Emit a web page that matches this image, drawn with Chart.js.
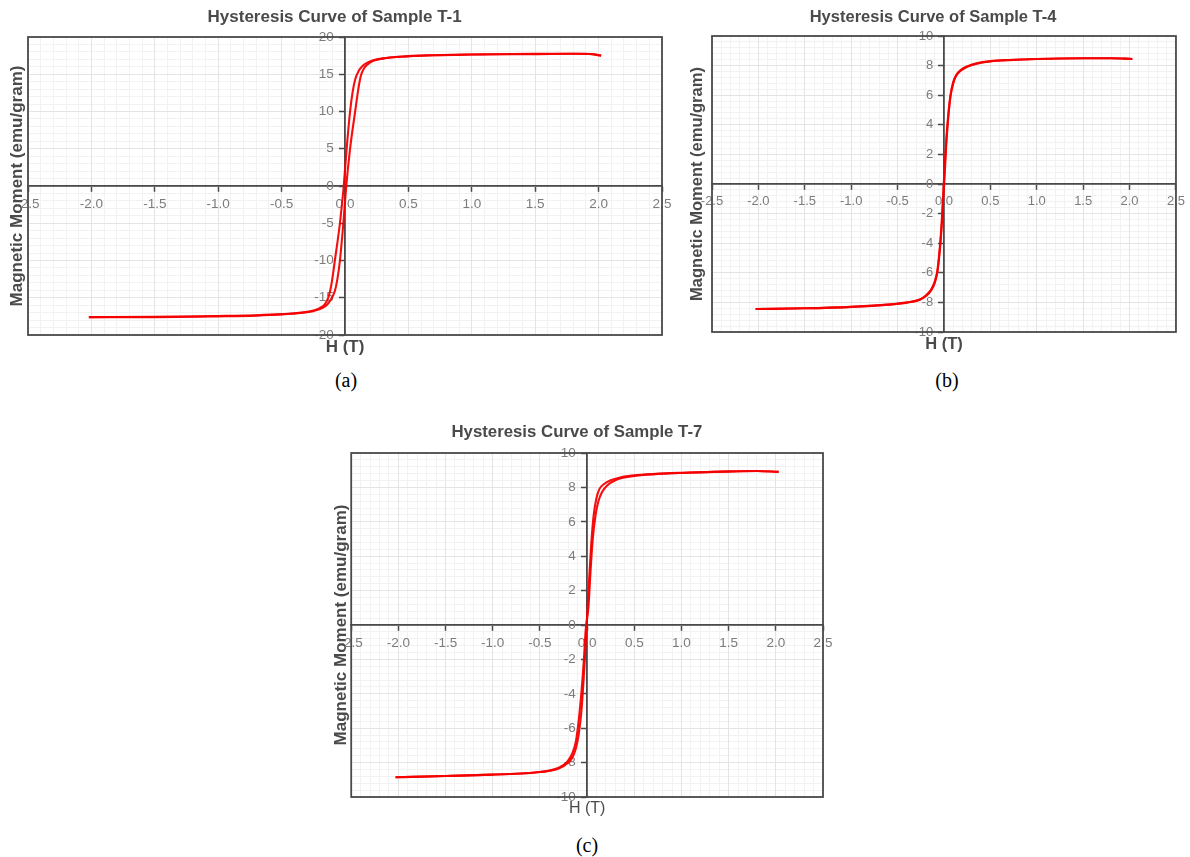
<!DOCTYPE html>
<html><head><meta charset="utf-8">
<script src="https://cdn.jsdelivr.net/npm/chart.js@4.4.1/dist/chart.umd.min.js"></script>
<style>
body{margin:0;background:#fff;width:1190px;height:857px;position:relative;overflow:hidden}
canvas{position:absolute}
.cap{position:absolute;font-family:"Liberation Serif","Times New Roman",serif;font-size:20px;color:#000;transform:translate(-50%,-50%);white-space:nowrap}
</style></head><body>
<canvas id="ca" width="680" height="365" style="left:0px;top:0px"></canvas>
<canvas id="cb" width="510" height="365" style="left:680px;top:0px"></canvas>
<canvas id="cc" width="520" height="430" style="left:320px;top:400px"></canvas>
<div class="cap" style="left:346px;top:380px">(a)</div>
<div class="cap" style="left:947px;top:380px">(b)</div>
<div class="cap" style="left:587px;top:845px">(c)</div>
<script>
// ---- tick values ----
const xTickValues = [-2.5, -2.0, -1.5, -1.0, -0.5, 0.0, 0.5, 1.0, 1.5, 2.0, 2.5];
const yTicksT1 = [-20, -15, -10, -5, 0, 5, 10, 15, 20];
const yTicksT4 = [-10, -8, -6, -4, -2, 0, 2, 4, 6, 8, 10];
const yTicksT7 = [-10, -8, -6, -4, -2, 0, 2, 4, 6, 8, 10];

// ---- Sample T-1 ----
const t1UpperH = [2.02, 1.95, 1.8, 1.5, 1.0, 0.7, 0.5, 0.35, 0.25, 0.18, 0.14, 0.11, 0.08, 0.06, 0.04, 0.013, -0.01, -0.04, -0.08, -0.105, -0.13, -0.16, -0.2, -0.3, -0.5, -0.7, -1.0, -1.5, -2.02];
const t1UpperM = [17.5, 17.7, 17.75, 17.7, 17.65, 17.55, 17.45, 17.25, 17.0, 16.6, 16.15, 15.5, 14.3, 12.6, 10.0, 5.0, 0.0, -5.0, -10.0, -13.0, -14.9, -15.9, -16.4, -16.9, -17.2, -17.35, -17.45, -17.55, -17.6];
const t1LowerH = [-2.02, -1.5, -1.0, -0.7, -0.5, -0.35, -0.25, -0.18, -0.14, -0.11, -0.08, -0.06, -0.04, -0.013, 0.01, 0.04, 0.08, 0.105, 0.125, 0.15, 0.2, 0.3, 0.5, 0.7, 1.0, 1.5, 1.9, 2.02];
const t1LowerM = [-17.6, -17.6, -17.5, -17.4, -17.25, -17.05, -16.8, -16.4, -15.9, -15.2, -14.1, -12.5, -10.0, -5.0, 0.0, 5.0, 10.0, 13.0, 14.8, 15.8, 16.6, 17.1, 17.4, 17.55, 17.65, 17.75, 17.75, 17.5];

// ---- Sample T-4 ----
const t4UpperH = [2.03, 1.8, 1.5, 1.0, 0.7, 0.5, 0.35, 0.25, 0.18, 0.13, 0.1, 0.07, 0.045, 0.025, 0.008, -0.008, -0.025, -0.045, -0.07, -0.1, -0.14, -0.19, -0.26, -0.4, -0.6, -1.0, -1.5, -2.03];
const t4UpperM = [8.45, 8.5, 8.5, 8.45, 8.38, 8.3, 8.15, 7.95, 7.7, 7.35, 6.9, 6.0, 4.6, 3.0, 1.2, -0.6, -2.6, -4.3, -5.8, -6.6, -7.15, -7.5, -7.8, -8.0, -8.15, -8.3, -8.4, -8.45];
const t4LowerH = [-2.03, -1.5, -1.0, -0.6, -0.4, -0.26, -0.19, -0.14, -0.1, -0.07, -0.045, -0.025, -0.008, 0.008, 0.025, 0.045, 0.07, 0.1, 0.13, 0.18, 0.25, 0.35, 0.5, 0.7, 1.0, 1.5, 1.8, 2.03];
const t4LowerM = [-8.45, -8.4, -8.3, -8.15, -8.02, -7.82, -7.55, -7.2, -6.7, -5.9, -4.5, -2.9, -1.1, 0.7, 2.7, 4.4, 5.9, 6.8, 7.3, 7.65, 7.92, 8.13, 8.28, 8.37, 8.45, 8.5, 8.5, 8.45];

// ---- Sample T-7 ----
const t7UpperH = [2.03, 1.8, 1.5, 1.0, 0.7, 0.5, 0.35, 0.25, 0.18, 0.13, 0.1, 0.07, 0.045, 0.025, 0.005, -0.015, -0.035, -0.06, -0.09, -0.12, -0.16, -0.21, -0.3, -0.5, -0.7, -1.0, -1.5, -2.03];
const t7UpperM = [8.9, 8.95, 8.93, 8.85, 8.78, 8.7, 8.58, 8.42, 8.2, 7.9, 7.4, 6.4, 4.8, 3.0, 1.0, -1.1, -3.0, -5.0, -6.4, -7.2, -7.75, -8.05, -8.35, -8.55, -8.63, -8.7, -8.78, -8.85];
const t7LowerH = [-2.03, -1.5, -1.0, -0.7, -0.5, -0.3, -0.21, -0.16, -0.12, -0.09, -0.06, -0.035, -0.015, 0.015, 0.035, 0.06, 0.09, 0.12, 0.16, 0.21, 0.3, 0.5, 0.7, 1.0, 1.5, 1.8, 2.03];
const t7LowerM = [-8.85, -8.78, -8.7, -8.63, -8.55, -8.3, -7.95, -7.5, -6.8, -5.6, -3.9, -2.1, -0.3, 1.1, 3.0, 5.0, 6.4, 7.2, 7.75, 8.1, 8.42, 8.66, 8.76, 8.84, 8.92, 8.95, 8.9];

const FAM = '"Liberation Sans", Arial, Helvetica, sans-serif';
const DARK = '#4a4a4a';
const TICKCOL = '#7c7c7c';

const framePlugin = {
  id: 'frame',
  beforeDatasetsDraw(chart) {
    const {ctx, chartArea: a} = chart;
    ctx.save();
    ctx.strokeStyle = DARK;
    ctx.lineWidth = 1.8;
    ctx.strokeRect(a.left, a.top, a.right - a.left, a.bottom - a.top);
    ctx.restore();
  }
};

function pts(H, M) { return H.map((h, i) => ({x: h, y: M[i]})); }

function build(id, cfg) {
  const lhT = cfg.fT * 1.2, lhY = cfg.fY * 1.2, lhX = cfg.fX * 1.2;
  const padTop = cfg.titleY - lhT / 2;
  const tBottom = cfg.area.t - padTop - lhT;
  const padLeft = cfg.yTitleX - lhY / 2;
  const yb = Math.max(0, cfg.area.l - padLeft - lhY);
  const xt = cfg.xTitleY - cfg.area.b - lhX / 2;
  const padBottom = cfg.H - cfg.area.b - lhX - xt;
  const padRight = cfg.W - cfg.area.r;
  const lineDs = (H, M) => ({
    data: pts(H, M), showLine: true, borderColor: 'rgba(245,0,0,0.95)', borderWidth: 2.1,
    pointRadius: 0, cubicInterpolationMode: 'monotone', fill: false
  });
  new Chart(document.getElementById(id), {
    type: 'scatter',
    data: { datasets: [lineDs(cfg.upH, cfg.upM), lineDs(cfg.loH, cfg.loM)] },
    options: {
      responsive: false, animation: false, devicePixelRatio: 1,
      layout: { padding: { left: padLeft, top: padTop, right: padRight, bottom: padBottom } },
      plugins: {
        legend: { display: false }, tooltip: { enabled: false },
        title: { display: true, text: cfg.title, color: DARK,
          font: { family: FAM, size: cfg.fT, weight: 'bold' }, padding: { top: 0, bottom: tBottom } }
      },
      scales: {
        xm: { axis: 'x', type: 'linear', position: 'bottom', min: -2.5, max: 2.5,
          ticks: { display: false, stepSize: 0.1 },
          grid: { color: '#f2f2f2', drawTicks: false, z: -2 }, border: { display: false },
          title: { display: true, text: 'H (T)', color: DARK,
            font: { family: FAM, size: cfg.fX, weight: cfg.xBold ? 'bold' : 'normal' }, padding: { top: xt, bottom: 0 } } },
        ym: { axis: 'y', type: 'linear', position: 'left', min: cfg.yMin, max: cfg.yMax,
          ticks: { display: false, stepSize: cfg.yMinor },
          grid: { color: '#f2f2f2', drawTicks: false, z: -2 }, border: { display: false },
          title: { display: true, text: 'Magnetic Moment (emu/gram)', color: DARK,
            font: { family: FAM, size: cfg.fY, weight: 'bold' }, padding: { top: 0, bottom: yb } } },
        x: { axis: 'x', type: 'linear', position: { y: 0 }, min: -2.5, max: 2.5,
          afterBuildTicks: s => { s.ticks = xTickValues.map(v => ({value: v})); },
          ticks: { callback: v => Number(v).toFixed(1), color: TICKCOL, font: { family: FAM, size: cfg.fTick },
            padding: 5, autoSkip: false, maxRotation: 0, minRotation: 0 },
          grid: { color: '#e4e4e4', tickColor: DARK, tickLength: 5, tickWidth: 1.5, z: -1 },
          border: { color: DARK, width: 1.8 } },
        y: { axis: 'y', type: 'linear', position: { x: 0 }, min: cfg.yMin, max: cfg.yMax,
          afterBuildTicks: s => { s.ticks = cfg.yTicks.map(v => ({value: v})); },
          // trailing spaces keep the right-aligned labels clear of the centred axis line
          ticks: { callback: v => String(v) + '\u00a0\u00a0\u00a0', color: TICKCOL, font: { family: FAM, size: cfg.fTick },
            padding: 6, autoSkip: false },
          grid: { color: '#e4e4e4', tickColor: DARK, tickLength: 5, tickWidth: 1.5, z: -1 },
          border: { color: DARK, width: 1.8 } }
      }
    },
    plugins: [framePlugin]
  });
}

build('ca', { W: 680, H: 365, area: { l: 28, t: 37, r: 662, b: 335 }, title: 'Hysteresis Curve of Sample T-1',
  fT: 17, titleY: 17, fY: 17, yTitleX: 17.5, fX: 17, xTitleY: 347, xBold: true, fTick: 13.5,
  yMin: -20, yMax: 20, yMinor: 1, yTicks: yTicksT1,
  upH: t1UpperH, upM: t1UpperM, loH: t1LowerH, loM: t1LowerM });

build('cb', { W: 510, H: 365, area: { l: 32, t: 36, r: 499, b: 332 }, title: 'Hysteresis Curve of Sample T-4',
  fT: 16.5, titleY: 17, fY: 16.5, yTitleX: 17, fX: 16.5, xTitleY: 344.5, xBold: true, fTick: 13,
  yMin: -10, yMax: 10, yMinor: 0.4, yTicks: yTicksT4,
  upH: t4UpperH, upM: t4UpperM, loH: t4LowerH, loM: t4LowerM });

build('cc', { W: 520, H: 430, area: { l: 31, t: 53, r: 503, b: 397 }, title: 'Hysteresis Curve of Sample T-7',
  fT: 16.8, titleY: 32, fY: 17, yTitleX: 21, fX: 16, xTitleY: 409, xBold: false, fTick: 13.5,
  yMin: -10, yMax: 10, yMinor: 0.4, yTicks: yTicksT7,
  upH: t7UpperH, upM: t7UpperM, loH: t7LowerH, loM: t7LowerM });
</script>
</body></html>
